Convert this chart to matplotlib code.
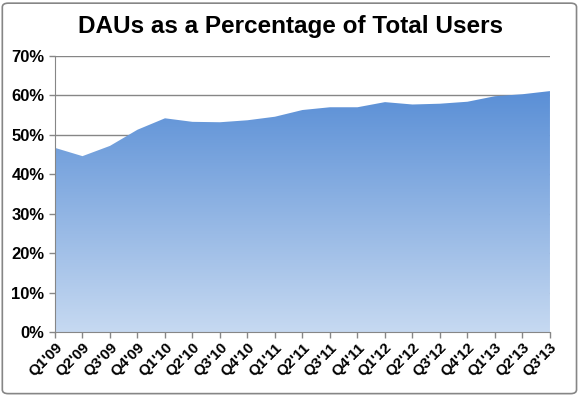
import numpy as np
import matplotlib
matplotlib.use("Agg")
import matplotlib.pyplot as plt
from matplotlib.colors import LinearSegmentedColormap
from matplotlib.patches import FancyBboxPatch

quarters = ["Q1'09", "Q2'09", "Q3'09", "Q4'09", "Q1'10", "Q2'10", "Q3'10", "Q4'10",
            "Q1'11", "Q2'11", "Q3'11", "Q4'11", "Q1'12", "Q2'12", "Q3'12", "Q4'12",
            "Q1'13", "Q2'13", "Q3'13"]
dau_pct = [46.7, 44.6, 47.2, 51.3, 54.2, 53.3, 53.2, 53.7, 54.6, 56.3, 57.0, 57.0,
           58.3, 57.7, 57.9, 58.4, 59.8, 60.3, 61.1]

plt.rcParams['font.family'] = ['Liberation Sans', 'DejaVu Sans']

fig = plt.figure(figsize=(5.8, 3.96), dpi=100)
ax = fig.add_axes([0.0948, 0.1616, 0.8534, 0.697])

x = np.arange(len(quarters))
y = np.array(dau_pct)

# gradient area
poly = ax.fill_between(x, 0, y, color='none', lw=0)
cmap = LinearSegmentedColormap.from_list("g", ["#c6d9f1", "#5a8fd6"])
grad = np.linspace(0, 1, 256).reshape(-1, 1)
img = ax.imshow(grad, extent=[x[0], x[-1], 0, y.max()], origin='lower',
                aspect='auto', cmap=cmap, zorder=2)
path = poly.get_paths()[0]
img.set_clip_path(path, transform=ax.transData)

ax.set_xlim(0, len(quarters) - 1)
ax.set_ylim(0, 70)
ax.set_yticks(range(0, 71, 10))
ax.set_yticklabels([f"{v}%" for v in range(0, 71, 10)], fontsize=12, fontweight='bold')
ax.set_xticks(x)
ax.set_xticklabels(quarters, rotation=45, ha='right', rotation_mode='anchor',
                   fontsize=11, fontweight='bold')
ax.yaxis.grid(True, color='#868686', lw=1)
ax.set_axisbelow(True)
for s in ['top', 'right']:
    ax.spines[s].set_visible(False)
for s in ['left', 'bottom']:
    ax.spines[s].set_color('#868686')
ax.tick_params(axis='both', color='#868686', length=4, width=1)
ax.tick_params(axis='x', pad=2)

fig.text(0.5, 0.933, "DAUs as a Percentage of Total Users", ha='center', va='center',
         fontsize=17.5, fontweight='bold')

border = FancyBboxPatch((0.004, 0.006), 0.99, 0.986, boxstyle="round,pad=0,rounding_size=0.01",
                        transform=fig.transFigure, fill=False, edgecolor='#868686', lw=1.2)
fig.patches.append(border)

fig.savefig("out.png", dpi=100)
